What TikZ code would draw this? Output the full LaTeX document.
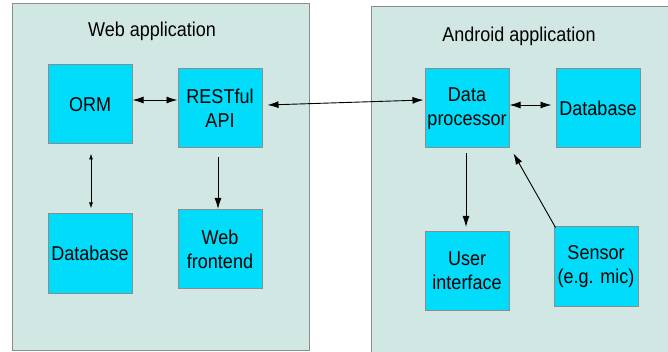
\documentclass[tikz,border=0pt]{standalone}
\usepackage{fontspec}
\setmainfont{Liberation Sans}[FakeStretch=0.9]
\usetikzlibrary{arrows.meta,calc}
\definecolor{panelfill}{HTML}{D1E7E4}
\definecolor{boxfill}{HTML}{00DCFA}
\definecolor{bordergray}{HTML}{8C8C8C}
\begin{document}
\begin{tikzpicture}[x=1pt,y=-1pt,
  panel/.style={draw=bordergray,fill=panelfill,line width=1pt},
  compbox/.style={draw=bordergray,fill=boxfill,line width=1pt,minimum width=84pt,minimum height=79pt,inner sep=0pt,align=center,font=\fontsize{20}{24}\selectfont},
  title/.style={font=\fontsize{20}{24}\selectfont,inner sep=0pt},
  conn/.style={line width=0.9pt,-{Latex[length=11pt,width=7pt]}},
  bconn/.style={line width=0.9pt,{Latex[length=11pt,width=7pt]}-{Latex[length=11pt,width=7pt]}},
  sconn/.style={line width=0.9pt,{Latex[length=6pt,width=4pt]}-{Latex[length=6pt,width=4pt]}}]
\useasboundingbox (0,0) rectangle (668,352);
\clip (0,0) rectangle (668,352);
\fill[white] (0,0) rectangle (668,352);
% panels
\draw[panel] (12,4) rectangle (309,350);
\draw[panel] (371,7) rectangle (690,370);
\node[title] (webtitle) at (152,31) {Web application};
\node[title] (andtitle) at (519,36) {Android application};
% web boxes
\node[compbox] (orm) at (90,104.5) {ORM};
\node[compbox] (rest) at (220,108.5) {RESTful\\API};
\node[compbox] (dbweb) at (90,253.5) {Database};
\node[compbox] (front) at (220,249) {Web\\frontend};
% android boxes
\node[compbox] (dp) at (467,108.5) {Data\\processor};
\node[compbox] (dband) at (598,108.5) {Database};
\node[compbox] (ui) at (467,271) {User\\interface};
\node[compbox] (sensor) at (596,266.5) {Sensor\\(e.g. mic)};
% connectors
\draw[bconn] ($(orm.east)+(0,-4.5)$) -- ($(rest.west)+(0,-8.5)$);
\draw[sconn] ($(orm.south)+(1,9)$) -- ($(dbweb.north)+(1,-5)$);
\draw[conn] ($(rest.south)+(-2,9)$) -- ($(front.north)+(-2,0)$);
\draw[bconn] ($(rest.east)+(5,-3.5)$) -- ($(dp.west)+(-1,-8.5)$);
\draw[bconn] ($(dp.east)+(0,-3.5)$) -- ($(dband.west)+(-4,-3.5)$);
\draw[conn] ($(dp.south)+(-1,5)$) -- ($(ui.north)+(-1,-4)$);
\draw[conn] ($(sensor.north west)+(2,1)$) -- ($(dp.south east)+(4,5)$);
\end{tikzpicture}
\end{document}
